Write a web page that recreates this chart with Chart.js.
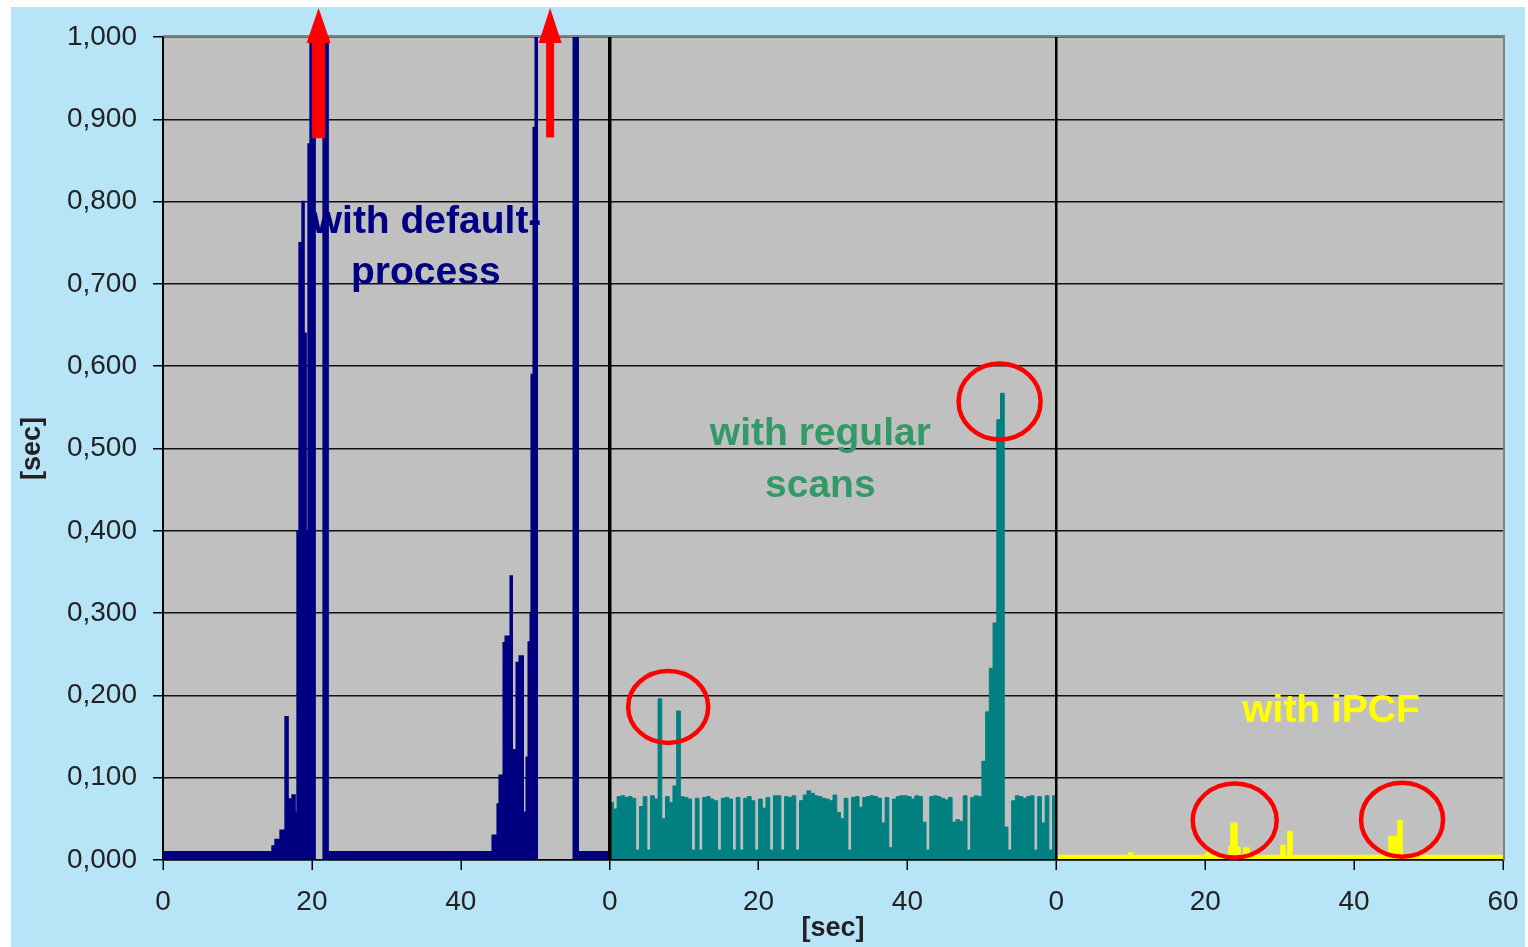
<!DOCTYPE html>
<html>
<head>
<meta charset="utf-8">
<script src="https://cdn.jsdelivr.net/npm/chart.js@4.4.1/dist/chart.umd.min.js"></script>
<style>
  html, body { margin: 0; padding: 0; background: #fff; }
</style>
</head>
<body>
<canvas id="chart" width="1528" height="947"></canvas>
<script>
// Three 60 s runs laid side by side on one time axis (0-180 s)
const xTickValues = [0, 20, 40, 60, 80, 100, 120, 140, 160, 180];
const xTickLabels = ['0', '20', '40', '0', '20', '40', '0', '20', '40', '60'];

// run 1: default process (step times in s, response in s)
const defaultTimes = [0, 14.65, 15.05, 15.73, 16.40, 16.80, 17.34, 17.74, 18.01, 18.28,
  18.68, 18.95, 19.22, 19.49, 19.76, 20.43, 21.51, 22.18, 44.22, 44.89,
  45.16, 45.70, 45.97, 46.64, 46.91, 47.45, 47.85, 48.39, 48.79, 49.06,
  49.33, 49.46, 49.73, 50.00, 50.27, 55.11, 55.78, 60];
const defaultValues = [0.010, 0.017, 0.025, 0.036, 0.174, 0.074, 0.079, 0.058, 0.400, 0.750,
  0.800, 0.640, 0.400, 0.870, 1.200, 0, 1.200, 0.010, 0.030, 0.068,
  0.103, 0.264, 0.272, 0.345, 0.134, 0.240, 0.248, 0.058, 0.125, 0.265,
  0.300, 0.590, 0.890, 1.200, 0, 1.200, 0.010, 0.010];

// run 2: regular scans, one sample every 0.5 s starting at 60 s
const scanStart = 60;
const scanStep = 0.5;
const scanValues = [
  0.070, 0.062, 0.077, 0.078, 0.076, 0.077, 0.075, 0.012, 0.065, 0.077,
  0.012, 0.078, 0.074, 0.196, 0.050, 0.077, 0.070, 0.090, 0.181, 0.077,
  0.076, 0.074, 0.012, 0.075, 0.012, 0.076, 0.077, 0.074, 0.072, 0.012,
  0.075, 0.076, 0.074, 0.012, 0.076, 0.012, 0.075, 0.077, 0.072, 0.012,
  0.074, 0.063, 0.076, 0.012, 0.078, 0.078, 0.012, 0.077, 0.076, 0.078,
  0.012, 0.072, 0.079, 0.084, 0.081, 0.078, 0.077, 0.075, 0.074, 0.072,
  0.079, 0.058, 0.050, 0.075, 0.012, 0.076, 0.077, 0.064, 0.076, 0.077,
  0.078, 0.077, 0.075, 0.045, 0.076, 0.015, 0.074, 0.077, 0.078, 0.078,
  0.077, 0.074, 0.078, 0.077, 0.046, 0.012, 0.077, 0.078, 0.077, 0.075,
  0.073, 0.076, 0.046, 0.049, 0.047, 0.078, 0.012, 0.076, 0.078, 0.077,
  0.120, 0.180, 0.233, 0.288, 0.535, 0.567, 0.040, 0.012, 0.072, 0.078,
  0.077, 0.075, 0.077, 0.078, 0.012, 0.077, 0.045, 0.078, 0.012, 0.078,
  0.078];

// run 3: iPCF
const ipcfTimes = [120, 129.81, 130.20, 140.16, 140.56, 143.25, 143.52, 144.19, 144.60, 145.27,
  145.81, 150.24, 150.65, 151.18, 151.59, 164.76, 165.70, 165.97, 166.37, 180];
const ipcfValues = [0.005, 0.008, 0.005, 0.008, 0.005, 0.015, 0.044, 0.015, 0.005, 0.014,
  0.005, 0.017, 0.005, 0.034, 0.005, 0.028, 0.005, 0.047, 0.005, 0.005];

// hand-drawn marks on the original slide
const arrows = [
  { x: 20.9, from: 0.877, shaft: 13, head: 24 },
  { x: 52.0, from: 0.878, shaft: 8, head: 23 }
];
const circles = [
  { x: 67.86, y: 0.186, rx: 40, ry: 36 },
  { x: 112.38, y: 0.557, rx: 41, ry: 38 },
  { x: 143.96, y: 0.048, rx: 42, ry: 37 },
  { x: 166.44, y: 0.049, rx: 41, ry: 37 }
];
const notes = [
  { text: 'with default-', x: 35.4, y: 0.762, color: '#000080' },
  { text: 'process', x: 35.3, y: 0.700, color: '#000080' },
  { text: 'with regular', x: 88.3, y: 0.504, color: '#339966' },
  { text: 'scans', x: 88.3, y: 0.441, color: '#339966' },
  { text: 'with iPCF', x: 156.9, y: 0.168, color: '#ffff00' }
];

const FONT = '"Liberation Sans", Arial, sans-serif';

function toPoints(xs, ys) {
  return xs.map((x, i) => ({ x: x, y: ys[i] }));
}

const slidePlugin = {
  id: 'slide',
  beforeDraw(chart) {
    const { ctx, chartArea: a } = chart;
    ctx.save();
    ctx.fillStyle = '#fff';
    ctx.fillRect(0, 0, chart.width, chart.height);
    ctx.fillStyle = '#b8e4f8';
    ctx.fillRect(11, 7, chart.width - 14, chart.height - 7);
    ctx.fillStyle = '#c0c0c0';
    ctx.fillRect(a.left, a.top, a.right - a.left, a.bottom - a.top);
    ctx.restore();
  },
  afterDraw(chart) {
    const { ctx, chartArea: a } = chart;
    const xs = chart.scales.x, ys = chart.scales.y;
    ctx.save();

    // grey plot frame top/right
    ctx.strokeStyle = '#808080';
    ctx.lineWidth = 2;
    ctx.beginPath();
    ctx.moveTo(a.left, a.top - 1);
    ctx.lineTo(a.right + 1, a.top - 1);
    ctx.lineTo(a.right + 1, a.bottom);
    ctx.stroke();

    // red circles
    ctx.strokeStyle = '#ff0000';
    ctx.lineWidth = 4.5;
    circles.forEach(c => {
      ctx.beginPath();
      ctx.ellipse(xs.getPixelForValue(c.x), ys.getPixelForValue(c.y), c.rx, c.ry, 0, 0, Math.PI * 2);
      ctx.stroke();
    });

    // red arrows
    ctx.fillStyle = '#ff0000';
    arrows.forEach(r => {
      const cx = xs.getPixelForValue(r.x);
      const bottom = ys.getPixelForValue(r.from);
      const base = a.top + 6;
      const tip = a.top - 29;
      ctx.fillRect(cx - r.shaft / 2, base, r.shaft, bottom - base);
      ctx.beginPath();
      ctx.moveTo(cx - r.head / 2, base);
      ctx.lineTo(cx + r.head / 2, base);
      ctx.lineTo(cx, tip);
      ctx.closePath();
      ctx.fill();
    });

    // labels
    ctx.font = 'bold 39px ' + FONT;
    ctx.textAlign = 'center';
    ctx.textBaseline = 'alphabetic';
    notes.forEach(n => {
      ctx.fillStyle = n.color;
      ctx.fillText(n.text, xs.getPixelForValue(n.x), ys.getPixelForValue(n.y));
    });
    ctx.restore();
  }
};

const series = {
  type: 'line',
  stepped: true,
  fill: 'origin',
  pointRadius: 0,
  clip: 0
};

new Chart(document.getElementById('chart'), {
  type: 'line',
  data: {
    datasets: [
      Object.assign({}, series, {
        label: 'with default process',
        data: toPoints(defaultTimes, defaultValues),
        borderColor: '#000080',
        backgroundColor: '#000080',
        borderWidth: 1.5
      }),
      Object.assign({}, series, {
        label: 'with regular scans',
        data: scanValues.map((v, i) => ({ x: scanStart + i * scanStep, y: v })),
        borderColor: '#008080',
        backgroundColor: '#008080',
        borderWidth: 1
      }),
      Object.assign({}, series, {
        label: 'with iPCF',
        data: toPoints(ipcfTimes, ipcfValues),
        borderColor: '#ffff00',
        backgroundColor: '#ffff00',
        borderWidth: 2.5
      })
    ]
  },
  options: {
    responsive: false,
    animation: false,
    layout: { padding: { left: 0, top: 37, right: 25, bottom: 0 } },
    plugins: {
      legend: { display: false },
      tooltip: { enabled: false }
    },
    scales: {
      x: {
        type: 'linear',
        min: 0,
        max: 180,
        afterBuildTicks: s => { s.ticks = xTickValues.map(v => ({ value: v })); },
        afterFit: s => { s.height = 87; s.paddingLeft = 0; s.paddingRight = 0; },
        ticks: {
          autoSkip: false,
          maxRotation: 0,
          color: '#222',
          padding: 15,
          font: { family: FONT, size: 28 },
          callback: (v, i) => xTickLabels[i]
        },
        grid: {
          z: 1,
          color: c => (c.tick && (c.tick.value === 60 || c.tick.value === 120)) ? '#000' : 'rgba(0,0,0,0)',
          lineWidth: c => (c.tick && c.tick.value === 60) ? 3.5 : 2.5,
          tickColor: '#000',
          tickWidth: 1.5,
          tickLength: 10
        },
        border: { color: '#000', width: 1.5, z: 1 },
        title: {
          display: true,
          text: '[sec]',
          color: '#222',
          font: { family: FONT, size: 27, weight: 'bold' },
          padding: { top: 0, bottom: 2 }
        }
      },
      y: {
        min: 0,
        max: 1,
        afterFit: s => { s.width = 163; },
        ticks: {
          stepSize: 0.1,
          color: '#222',
          padding: 16,
          font: { family: FONT, size: 28 },
          callback: v => v.toFixed(3).replace('.', ',')
        },
        grid: {
          color: '#111',
          lineWidth: 1.5,
          tickColor: '#000',
          tickLength: 10
        },
        border: { color: '#000', width: 2 },
        title: {
          display: true,
          text: '[sec]',
          color: '#222',
          font: { family: FONT, size: 27, weight: 'bold' },
          padding: { top: 16, bottom: 0 }
        }
      }
    }
  },
  plugins: [slidePlugin]
});
</script>
</body>
</html>
